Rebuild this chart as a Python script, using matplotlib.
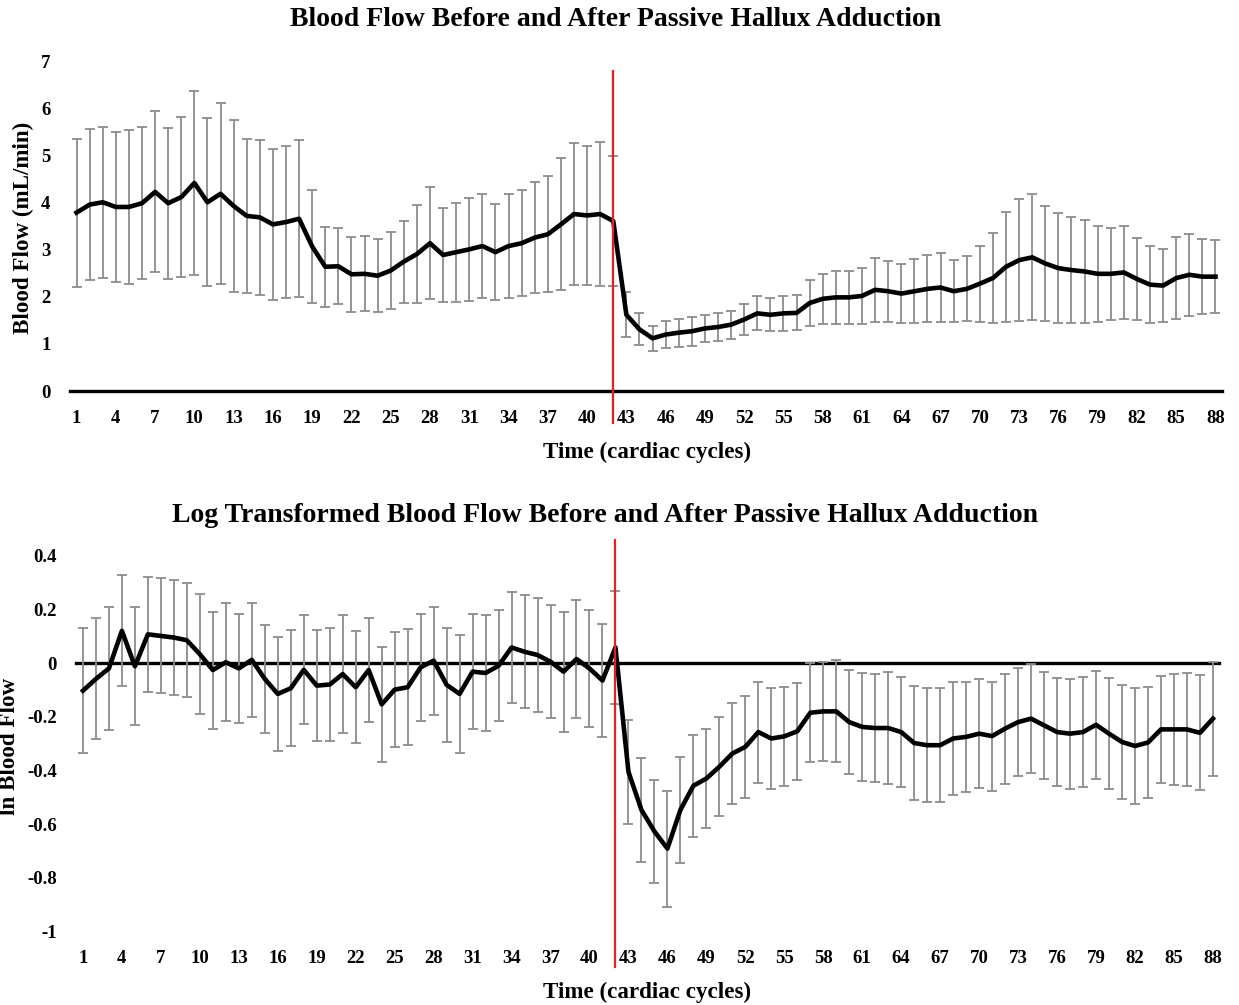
import numpy as np
import matplotlib.pyplot as plt

plt.rcParams['font.family'] = ['Liberation Serif', 'DejaVu Serif']
plt.rcParams['font.weight'] = 'bold'

# cardiac cycles, adduction applied at cycle 42
cycles = np.arange(1, 89)
ADDUCTION_CYCLE = 42
tick_cycles = np.arange(1, 89, 3)

# raw blood flow (mL/min), mean and SD per cycle
flow_mean = [3.79, 3.96, 4.01, 3.91, 3.91, 3.99, 4.23, 3.99, 4.12, 4.42,
             4.01, 4.19, 3.93, 3.72, 3.69, 3.54, 3.59, 3.66, 3.07, 2.64,
             2.65, 2.48, 2.49, 2.45, 2.56, 2.75, 2.91, 3.14, 2.89, 2.95,
             3.01, 3.08, 2.95, 3.08, 3.14, 3.26, 3.33, 3.54, 3.76, 3.73,
             3.76, 3.61, 1.62, 1.31, 1.12, 1.20, 1.24, 1.27, 1.33, 1.36,
             1.41, 1.52, 1.65, 1.62, 1.65, 1.66, 1.87, 1.96, 1.99, 1.99,
             2.02, 2.15, 2.12, 2.07, 2.12, 2.17, 2.20, 2.12, 2.17, 2.28,
             2.40, 2.64, 2.78, 2.84, 2.71, 2.61, 2.57, 2.54, 2.49, 2.49,
             2.52, 2.38, 2.26, 2.24, 2.40, 2.47, 2.43, 2.43]
flow_sd = [1.57, 1.60, 1.60, 1.60, 1.63, 1.62, 1.71, 1.60, 1.70, 1.95,
           1.78, 1.92, 1.82, 1.63, 1.64, 1.60, 1.62, 1.67, 1.21, 0.85,
           0.81, 0.80, 0.80, 0.77, 0.81, 0.87, 1.05, 1.19, 1.00, 1.05,
           1.10, 1.11, 1.02, 1.10, 1.12, 1.18, 1.23, 1.40, 1.51, 1.47,
           1.53, 1.38, 0.48, 0.34, 0.26, 0.28, 0.30, 0.31, 0.28, 0.30,
           0.30, 0.32, 0.36, 0.35, 0.37, 0.37, 0.49, 0.53, 0.56, 0.57,
           0.60, 0.68, 0.65, 0.62, 0.68, 0.71, 0.74, 0.66, 0.69, 0.81,
           0.95, 1.17, 1.30, 1.34, 1.23, 1.17, 1.12, 1.09, 1.02, 0.98,
           0.98, 0.87, 0.82, 0.78, 0.87, 0.87, 0.80, 0.77]

# log transformed blood flow, mean and SD per cycle
ln_mean = [-0.103, -0.059, -0.020, 0.120, -0.012, 0.107, 0.101, 0.095, 0.085, 0.033,
           -0.026, 0.003, -0.020, 0.012, -0.059, -0.115, -0.094, -0.025, -0.084, -0.080,
           -0.041, -0.090, -0.026, -0.154, -0.099, -0.090, -0.016, 0.009, -0.081, -0.115,
           -0.032, -0.037, -0.010, 0.058, 0.042, 0.030, 0.005, -0.032, 0.015, -0.020,
           -0.065, 0.058, -0.405, -0.547, -0.627, -0.691, -0.547, -0.457, -0.430, -0.386,
           -0.337, -0.312, -0.257, -0.281, -0.273, -0.254, -0.185, -0.180, -0.180, -0.220,
           -0.238, -0.242, -0.242, -0.257, -0.298, -0.306, -0.306, -0.281, -0.275, -0.263,
           -0.272, -0.244, -0.220, -0.207, -0.232, -0.257, -0.263, -0.257, -0.230, -0.263,
           -0.294, -0.309, -0.296, -0.247, -0.247, -0.247, -0.260, -0.207]
ln_sd = [0.233, 0.225, 0.229, 0.207, 0.220, 0.215, 0.214, 0.213, 0.212, 0.224,
         0.218, 0.219, 0.204, 0.213, 0.202, 0.213, 0.216, 0.203, 0.206, 0.209,
         0.220, 0.208, 0.194, 0.215, 0.213, 0.215, 0.200, 0.201, 0.213, 0.220,
         0.214, 0.215, 0.206, 0.208, 0.210, 0.211, 0.211, 0.224, 0.220, 0.218,
         0.210, 0.212, 0.194, 0.194, 0.192, 0.216, 0.198, 0.190, 0.185, 0.185,
         0.189, 0.189, 0.188, 0.188, 0.185, 0.180, 0.185, 0.184, 0.190, 0.195,
         0.200, 0.200, 0.210, 0.205, 0.211, 0.212, 0.212, 0.210, 0.205, 0.203,
         0.203, 0.205, 0.202, 0.204, 0.200, 0.200, 0.205, 0.205, 0.202, 0.207,
         0.211, 0.215, 0.207, 0.200, 0.207, 0.210, 0.214, 0.212]


def draw_panel(ax, mean, sd, ylim, yticks, yticklabels, red_span, xpad):
    ax.errorbar(cycles, mean, yerr=sd, fmt='none', ecolor='#8c8c8c',
                elinewidth=1.3, capsize=3.3, capthick=1.3, zorder=2)
    ax.plot(cycles, mean, color='black', lw=3.3, zorder=3,
            solid_joinstyle='round')
    # axis line crossing at zero (Excel style)
    ax.axhline(0, color='black', lw=2.4, zorder=1, clip_on=False)
    ax.axvline(ADDUCTION_CYCLE, ymin=red_span[0], ymax=red_span[1],
               color='#ee1c1c', lw=1.6, clip_on=False, zorder=4)
    ax.set_xlim(0.5, 88.5)
    ax.set_ylim(*ylim)
    ax.set_xticks(tick_cycles)
    ax.set_yticks(yticks)
    ax.set_yticklabels(yticklabels)
    for spine in ax.spines.values():
        spine.set_visible(False)
    ax.tick_params(axis='x', length=0, labelsize=13.5, pad=xpad)
    ax.tick_params(axis='y', length=0, labelsize=13.5, pad=14)


fig = plt.figure(figsize=(12.39, 10.05), dpi=100)

ax1 = fig.add_axes([0.0565, 0.6109, 0.9298, 0.3279])
draw_panel(ax1, flow_mean, flow_sd, (0, 7), range(0, 8),
           [str(v) for v in range(0, 8)], (-0.097, 0.97), 14)

ax2 = fig.add_axes([0.0617, 0.0731, 0.9225, 0.3740])
ln_ticks = [0.4, 0.2, 0, -0.2, -0.4, -0.6, -0.8, -1]
draw_panel(ax2, ln_mean, ln_sd, (-1, 0.4), ln_ticks,
           ['0.4', '0.2', '0', '-0.2', '-0.4', '-0.6', '-0.8', '-1'],
           (-0.094, 1.041), 13)

W, H = 1239, 1005
fig.text(616 / W, 1 - 20 / H, 'Blood Flow Before and After Passive Hallux Adduction',
         ha='center', va='center', fontsize=20)
fig.text(605 / W, 1 - 515 / H,
         'Log Transformed Blood Flow Before and After Passive Hallux Adduction',
         ha='center', va='center', fontsize=20)
fig.text(647 / W, 1 - 452 / H, 'Time (cardiac cycles)', ha='center',
         va='center', fontsize=16.6)
fig.text(647 / W, 1 - 992 / H, 'Time (cardiac cycles)', ha='center',
         va='center', fontsize=16.6)
fig.text(23 / W, 1 - 228 / H, 'Blood Flow (mL/min)', ha='center',
         va='center', rotation=90, fontsize=16.6)
fig.text(10 / W, 1 - 746 / H, 'ln Blood Flow', ha='center',
         va='center', rotation=90, fontsize=16.6)

fig.savefig('out.png', dpi=100)
